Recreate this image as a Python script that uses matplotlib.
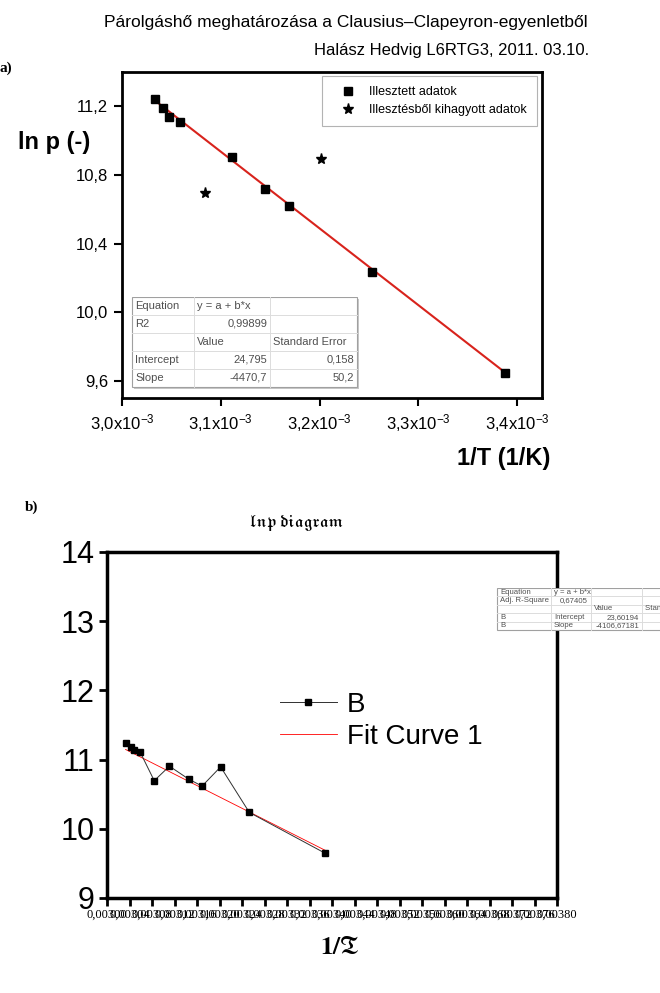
import numpy as np
import matplotlib
matplotlib.use('Agg')
import matplotlib.pyplot as plt
from matplotlib.patches import Rectangle

# measured points: 1/T (1/K) and ln p
inv_T_fit = [0.003033, 0.003042, 0.003048, 0.003059, 0.003111, 0.003145, 0.003169, 0.003253, 0.003388]
lnp_fit = [11.245, 11.188, 11.136, 11.107, 10.905, 10.719, 10.617, 10.237, 9.646]
inv_T_out = [0.003084, 0.003202]
lnp_out = [10.695, 10.895]

# fit results shown in the tables
a_intercept, a_slope = 24.795, -4470.7
b_intercept, b_slope = 23.60194, -4106.67181

a_table = [["Equation", "y = a + b*x", ""],
           ["R2", "0,99899", ""],
           ["", "Value", "Standard Error"],
           ["Intercept", "24,795", "0,158"],
           ["Slope", "-4470,7", "50,2"]]
b_table = [["Equation", "y = a + b*x", "", ""],
           ["Adj. R-Square", "0,67405", "", ""],
           ["", "", "Value", "Standard Error"],
           ["B", "Intercept", "23,60194", ""],
           ["B", "Slope", "-4106,67181", ""]]

a_xticks = [0.0030, 0.0031, 0.0032, 0.0033, 0.0034]
a_yticks = [9.6, 10.0, 10.4, 10.8, 11.2]
b_xticks = np.round(np.arange(0.0030, 0.00381, 0.00004), 5)
b_yticks = [9, 10, 11, 12, 13, 14]

W, H = 660, 993
plt.rcParams['font.family'] = ['Liberation Sans', 'DejaVu Sans']
plt.rcParams['mathtext.fontset'] = 'custom'
plt.rcParams['mathtext.rm'] = 'Liberation Sans'
plt.rcParams['mathtext.it'] = 'Liberation Sans:italic'
plt.rcParams['mathtext.bf'] = 'Liberation Sans:bold'
fig = plt.figure(figsize=(W / 100, H / 100), dpi=100)


def px_axes(x0, y0, x1, y1):
    return fig.add_axes([x0 / W, 1 - y1 / H, (x1 - x0) / W, (y1 - y0) / H])


def ftext(x, y, s, **kw):
    return fig.text(x / W, 1 - y / H, s, **kw)


def is_num(s):
    return s.replace(',', '').replace('-', '').isdigit()


def draw_table(x_edges, y_top, row_h, rows, fs, shadow=False):
    w = x_edges[-1] - x_edges[0]
    h = row_h * len(rows)
    tax = px_axes(x_edges[0] - 3, y_top, x_edges[-1] + 3, y_top + h + 3)
    tax.set_xlim(x_edges[0] - 3, x_edges[-1] + 3)
    tax.set_ylim(y_top + h + 3, y_top)
    tax.axis('off')
    if shadow:
        tax.add_patch(Rectangle((x_edges[0] + 2, y_top + 2), w, h, facecolor='#c8c8c8', lw=0))
    tax.add_patch(Rectangle((x_edges[0], y_top), w, h, facecolor='white', edgecolor='#a0a0a0', lw=0.8))
    for i in range(1, len(rows)):
        tax.plot([x_edges[0], x_edges[-1]], [y_top + i * row_h] * 2, color='#dcdcdc', lw=0.7)
    for xe in x_edges[1:-1]:
        tax.plot([xe, xe], [y_top, y_top + h], color='#dcdcdc', lw=0.7)
    for i, row in enumerate(rows):
        yc = y_top + (i + 0.5) * row_h
        for j, cell in enumerate(row):
            if not cell:
                continue
            if is_num(cell):
                tax.text(x_edges[j + 1] - 3, yc, cell, ha='right', va='center', fontsize=fs, color='#505050')
            else:
                tax.text(x_edges[j] + 3, yc, cell, ha='left', va='center', fontsize=fs, color='#505050')


# ---------------- a) ----------------
ftext(346, 22, "Párolgáshő meghatározása a Clausius–Clapeyron-egyenletből", ha='center', va='center', fontsize=12.5)
ftext(589, 51, "Halász Hedvig L6RTG3, 2011. 03.10.", ha='right', va='center', fontsize=12)
ftext(-1, 68, "a)", ha='left', va='center', fontsize=11, fontweight='bold', family='Liberation Serif')

ax1 = px_axes(122, 72, 541.7, 398)
ax1.plot(inv_T_fit, lnp_fit, 's', color='k', ms=6, label='Illesztett adatok', zorder=3)
ax1.plot(inv_T_out, lnp_out, '*', color='k', ms=8, label='Illesztésből kihagyott adatok', zorder=3)
xf = np.array([min(inv_T_fit), max(inv_T_fit)])
ax1.plot(xf, a_intercept + a_slope * xf, color='#d8231c', lw=1.5, zorder=2)
ax1.set_xlim(0.0030, 0.003425)
ax1.set_ylim(9.5, 11.4)
ax1.set_xticks(a_xticks)
ax1.set_xticklabels([f"{v * 1000:.1f}".replace('.', ',') + r"x10$^{\mathregular{-3}}$" for v in a_xticks])
ax1.set_yticks(a_yticks)
ax1.set_yticklabels([f"{v:.1f}".replace('.', ',') for v in a_yticks])
ax1.tick_params(direction='out', length=6, width=1.5, labelsize=12, pad=4)
for sp in ax1.spines.values():
    sp.set_linewidth(2)
leg1 = ax1.legend(loc='upper right', bbox_to_anchor=(537 / W, 1 - 76 / H), bbox_transform=fig.transFigure,
                  fontsize=9, frameon=True, fancybox=False, borderpad=0.8, handlelength=2.56,
                  handletextpad=0.4, labelspacing=0.5, borderaxespad=0)
leg1.get_frame().set_edgecolor('#a0a0a0')
leg1.get_frame().set_linewidth(0.8)
ftext(54, 143, "ln p (-)", ha='center', va='center', fontsize=17, fontweight='bold')
ftext(504, 458, "1/T (1/K)", ha='center', va='center', fontsize=17, fontweight='bold')

draw_table([132, 194, 270, 357], 297, 18, a_table, 8, shadow=True)

# ---------------- b) ----------------
ftext(25, 507, "b)", ha='left', va='center', fontsize=11, fontweight='bold', family='Liberation Serif')
ftext(297, 523, r"$\mathfrak{lnp\ diagram}$", ha='center', va='center', fontsize=12, math_fontfamily='stix')

ax2 = px_axes(107, 552, 557, 898)
xs = np.array(inv_T_fit + inv_T_out)
ys = np.array(lnp_fit + lnp_out)
order = np.argsort(xs)
ax2.plot(xs[order], ys[order], '-s', color='#303030', lw=0.7, ms=5, mfc='k', mec='k', label='B', zorder=3)
ax2.plot(xf, b_intercept + b_slope * xf, color='red', lw=0.6, label='Fit Curve 1', zorder=2)
ax2.set_xlim(0.0030, 0.0038)
ax2.set_ylim(9, 14)
ax2.set_xticks(b_xticks)
ax2.set_xticklabels([f"{v:.5f}".replace('.', ',') for v in b_xticks], family='Liberation Serif', fontsize=9)
ax2.set_yticks(b_yticks)
ax2.set_yticklabels([str(v) for v in b_yticks], fontsize=22)
ax2.tick_params(direction='out', length=6, width=2, pad=2)
ax2.tick_params(axis='y', pad=3)
for sp in ax2.spines.values():
    sp.set_linewidth(2.5)
ax2.legend(loc='upper left', bbox_to_anchor=(280 / W, 1 - 692 / H), bbox_transform=fig.transFigure,
           fontsize=20, frameon=False, borderpad=0, borderaxespad=0, handlelength=2.05,
           handletextpad=0.36, labelspacing=0.2)
ftext(340, 947, r"$\mathbf{1/}\mathfrak{T}$", ha='center', va='center', fontsize=18, math_fontfamily='stix')

draw_table([497, 551, 591, 642, 720], 588, 8.4, b_table, 5.6)

fig.savefig('out.png', dpi=100)
